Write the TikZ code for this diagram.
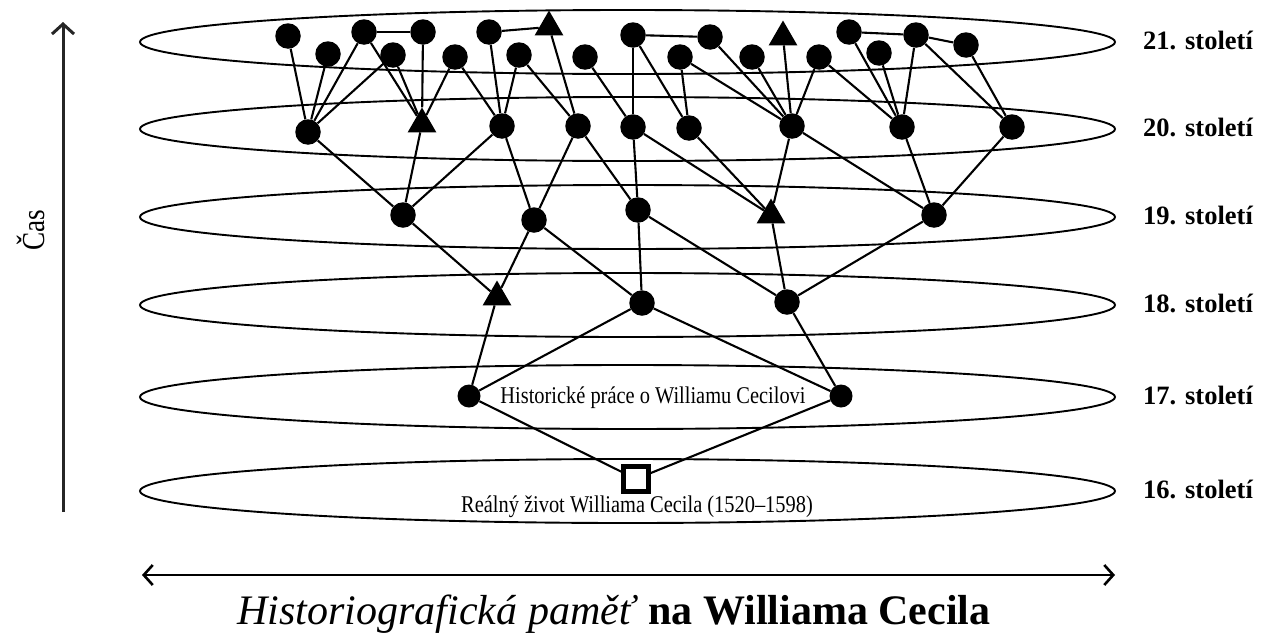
\documentclass[tikz,border=0pt]{standalone}
\usepackage{fontspec}
\setmainfont{Liberation Serif}
\newfontfamily\condfont[FakeStretch=0.85]{Liberation Serif}
\usetikzlibrary{arrows.meta,shapes.geometric}
\begin{document}
\begin{tikzpicture}[x=1pt,y=-1pt,
  dot/.style={circle,fill=black,minimum size=25.5pt,inner sep=0pt},
  sdot/.style={circle,fill=black,minimum size=23pt,inner sep=0pt},
  tri/.style={regular polygon,regular polygon sides=3,fill=black,minimum size=33pt,inner sep=0pt},
  sq/.style={rectangle,draw=black,fill=white,line width=4.5pt,minimum size=25pt,inner sep=0pt},
  layer/.style={line width=1.9pt},
  link/.style={line width=2.1pt},
  cent/.style={font=\bfseries\fontsize{26.5}{28}\selectfont,anchor=west,inner sep=0pt},
  note/.style={font=\condfont\fontsize{24}{26}\selectfont,inner sep=0pt},
]
\useasboundingbox (0,0) rectangle (1282,632);

% century layers
\foreach \yy in {42,129,217,305,397,491}
  \draw[layer] (627.5,\yy) ellipse [x radius=487.5, y radius=32];

% 21st century
\node[dot] (a1) at (288,36) {};
\node[dot] (a2) at (328,54) {};
\node[dot] (a3) at (364,32) {};
\node[dot] (a4) at (393,55) {};
\node[dot] (a5) at (423,32) {};
\node[dot] (a6) at (455,57) {};
\node[dot] (a7) at (489,32) {};
\node[dot] (a8) at (519,55) {};
\node[tri] (a9) at (549,27) {};
\node[dot] (a10) at (585,57) {};
\node[dot] (a11) at (633,35) {};
\node[dot] (a12) at (680,57) {};
\node[dot] (a13) at (710,37) {};
\node[dot] (a14) at (752,57) {};
\node[tri] (a15) at (783,37) {};
\node[dot] (a16) at (819,57) {};
\node[dot] (a17) at (849,32) {};
\node[dot] (a18) at (879,53) {};
\node[dot] (a19) at (916,35) {};
\node[dot] (a20) at (966,45) {};

% 20th century
\node[dot] (b1) at (308,132) {};
\node[tri] (b2) at (422,124) {};
\node[dot] (b3) at (502,126) {};
\node[dot] (b4) at (578,126) {};
\node[dot] (b5) at (633,127) {};
\node[dot] (b6) at (689,128) {};
\node[dot] (b7) at (792,126) {};
\node[dot] (b8) at (902,127) {};
\node[dot] (b9) at (1012,127) {};

% 19th century
\node[dot] (c1) at (403,215) {};
\node[dot] (c2) at (534,220) {};
\node[dot] (c3) at (638,210) {};
\node[tri] (c4) at (771,215) {};
\node[dot] (c5) at (934,215) {};

% 18th century
\node[tri] (d1) at (497,297) {};
\node[dot] (d2) at (642,303) {};
\node[dot] (d3) at (787,302) {};

% 17th century
\node[sdot] (e1) at (469,396) {};
\node[sdot] (e2) at (841,396) {};
\node[note] (t17) at (653,398) {Historické práce o Williamu Cecilovi};

% 16th century
\node[sq] (f) at (636,479) {};
\node[note] (t16) at (637,507) {Reálný život Williama Cecila (1520–1598)};

% connectors
\foreach \s/\t in {a3/a5,a7/a9,a11/a13,a17/a19,a19/a20,
  b1/a1,b1/a2,b1/a3,b1/a4,
  b2/a3,b2/a4,b2/a5,b2/a6,
  b3/a6,b3/a7,b3/a8,
  b4/a8,b4/a9,
  b5/a10,b5/a11,
  b6/a11,b6/a12,
  b7/a12,b7/a13,b7/a14,b7/a15,b7/a16,
  b8/a16,b8/a17,b8/a18,b8/a19,
  b9/a19,b9/a20,
  c1/b1,c1/b2,c1/b3,
  c2/b3,c2/b4,
  c3/b4,c3/b5,
  c4/b5,c4/b6,c4/b7,
  c5/b7,c5/b8,c5/b9,
  d1/c1,d1/c2,
  d2/c2,d2/c3,
  d3/c3,d3/c4,d3/c5,
  e1/d1,e1/d2,
  e2/d2,e2/d3,
  f/e1,f/e2}
  \draw[link] (\s) -- (\t);

% century labels
\node[cent] (l21) at (1143,40) {21. století};
\node[cent] (l20) at (1143,127) {20. století};
\node[cent] (l19) at (1143,215) {19. století};
\node[cent] (l18) at (1143,303) {18. století};
\node[cent] (l17) at (1143,395) {17. století};
\node[cent] (l16) at (1143,489) {16. století};

% time axis
\coordinate (vbot) at (63,512);
\coordinate (vtop) at (63,22);
\draw[line width=3pt,draw=black!85,-{Straight Barb[length=10pt,width=22pt]}] (vbot) -- (vtop);
\node[font=\condfont\fontsize{32}{34}\selectfont,rotate=90,inner sep=0pt] (cas) at (31,230) {Čas};

% memory axis
\coordinate (hl) at (142,575);
\coordinate (hr) at (1115,575);
\draw[line width=2.6pt,{Straight Barb[length=9pt,width=20pt]}-{Straight Barb[length=9pt,width=20pt]}] (hl) -- (hr);
\node[font=\fontsize{42}{44}\selectfont,inner sep=0pt] (title) at (614,614) {\textit{Historiografická paměť} \textbf{na Williama Cecila}};
\end{tikzpicture}
\end{document}
